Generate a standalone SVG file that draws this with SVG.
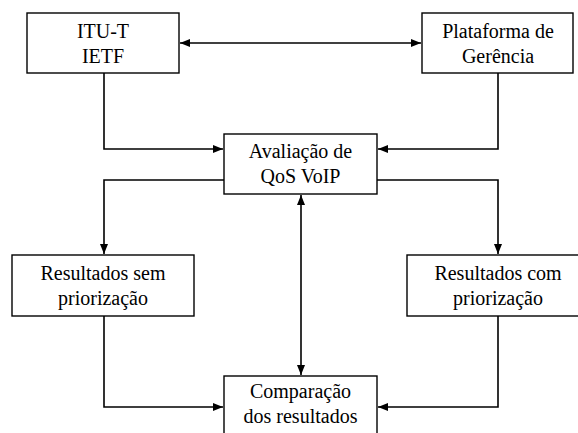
<svg xmlns="http://www.w3.org/2000/svg" width="578" height="433" viewBox="0 0 578 433">
<style>
.box{fill:#fff;stroke:#000;stroke-width:1.4}
.ln{fill:none;stroke:#000;stroke-width:1.6}
text{font-family:"Liberation Serif","Times New Roman",serif;font-size:20px;fill:#000;text-anchor:middle}
</style>
<defs>
<marker id="ah" viewBox="0 0 10 8" refX="10" refY="4" markerWidth="10" markerHeight="8" markerUnits="userSpaceOnUse" orient="auto-start-reverse">
<path d="M0,0 L10,4 L0,8 Z" fill="#000"/>
</marker>
</defs>
<rect width="578" height="433" fill="#fff"/>
<g id="connectors">
<path class="ln" d="M180,43 H421" marker-start="url(#ah)" marker-end="url(#ah)"/>
<path class="ln" d="M104,73 V149 H223" marker-end="url(#ah)"/>
<path class="ln" d="M498,73 V149 H378" marker-end="url(#ah)"/>
<path class="ln" d="M224,180 H104 V254" marker-end="url(#ah)"/>
<path class="ln" d="M377,180 H498 V254" marker-end="url(#ah)"/>
<path class="ln" d="M301,195 V375" marker-start="url(#ah)" marker-end="url(#ah)"/>
<path class="ln" d="M104,316 V407 H223" marker-end="url(#ah)"/>
<path class="ln" d="M498,316 V407 H378" marker-end="url(#ah)"/>
</g>
<g id="itu">
<rect class="box" x="27" y="13" width="152" height="60"/>
<text x="103" y="38">ITU-T</text>
<text x="103" y="63">IETF</text>
</g>
<g id="plataforma">
<rect class="box" x="422" y="13" width="151" height="60"/>
<text x="498" y="38">Plataforma de</text>
<text x="498" y="63">Gerência</text>
</g>
<g id="avaliacao">
<rect class="box" x="224" y="134" width="153" height="60"/>
<text x="300.5" y="158">Avaliação de</text>
<text x="300.5" y="183">QoS VoIP</text>
</g>
<g id="sem">
<rect class="box" x="12" y="255" width="182" height="61"/>
<text x="103" y="280">Resultados sem</text>
<text x="103" y="305">priorização</text>
</g>
<g id="com">
<rect class="box" x="407" y="255" width="175" height="61"/>
<text x="498" y="280">Resultados com</text>
<text x="498" y="305">priorização</text>
</g>
<g id="comparacao">
<rect class="box" x="224" y="376" width="153" height="65"/>
<text x="300.5" y="398">Comparação</text>
<text x="300.5" y="423">dos resultados</text>
</g>
</svg>
